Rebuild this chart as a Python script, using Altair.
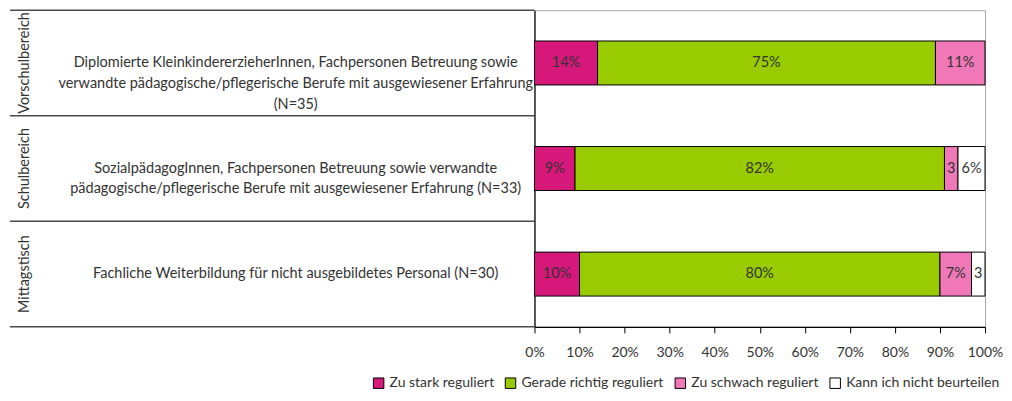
import altair as alt
import pandas as pd

groups = ["Vorschulbereich", "Schulbereich", "Mittagstisch"]
row_labels = [
    "Diplomierte KleinkindererzieherInnen, Fachpersonen Betreuung sowie\nverwandte pädagogische/pflegerische Berufe mit ausgewiesener Erfahrung\n(N=35)",
    "SozialpädagogInnen, Fachpersonen Betreuung sowie verwandte\npädagogische/pflegerische Berufe mit ausgewiesener Erfahrung (N=33)",
    "Fachliche Weiterbildung für nicht ausgebildetes Personal (N=30)",
]
categories = ["Zu stark reguliert", "Gerade richtig reguliert",
              "Zu schwach reguliert", "Kann ich nicht beurteilen"]
colors = ["#D6187B", "#99CC00", "#F078B8", "#FFFFFF"]

zu_stark = [14, 9, 10]
gerade_richtig = [75, 82, 80]
zu_schwach = [11, 3, 7]
kann_nicht = [0, 6, 3]
seg_labels = [
    ["14%", "75%", "11%", ""],
    ["9%", "82%", "3", "6%"],
    ["10%", "80%", "7%", "3"],
]

FONT = "Lato"
FS = 14.5
FS2 = 14
TXT = "#333333"
LINE = "#4a4a4a"

series = [zu_stark, gerade_richtig, zu_schwach, kann_nicht]
recs = []
for i, g in enumerate(groups):
    for j, c in enumerate(categories):
        v = series[j][i]
        if v > 0:
            recs.append({"group": g, "cat": c, "order": j, "value": v,
                         "label": seg_labels[i][j]})
df = pd.DataFrame(recs)
left_df = pd.DataFrame({"group": groups, "row": row_labels})

H = 317
yband = alt.Scale(paddingInner=0, paddingOuter=0)

# ---- left table panel ----
base_left = alt.Chart(left_df)
grp_txt = base_left.mark_text(angle=270, fontSize=FS, font=FONT, color=TXT).encode(
    x=alt.value(15),
    y=alt.Y("group:N", sort=groups, scale=yband, axis=None),
    text="group:N",
)
row_txt = base_left.mark_text(fontSize=FS, font=FONT, color=TXT, lineBreak="\n",
                              lineHeight=21, align="center", baseline="middle").encode(
    x=alt.value(286),
    y=alt.Y("group:N", sort=groups, scale=yband, axis=None),
    text="row:N",
)
rules_top = base_left.mark_rule(color=LINE, strokeWidth=1.5).encode(
    y=alt.Y("group:N", sort=groups, scale=yband, axis=None, bandPosition=0),
)
rule_bottom = base_left.transform_filter(
    alt.datum.group == groups[-1]
).mark_rule(color=LINE, strokeWidth=1.5).encode(
    y=alt.Y("group:N", sort=groups, scale=yband, axis=None, bandPosition=1),
)
left = alt.layer(rules_top, rule_bottom, grp_txt, row_txt).properties(
    width=525, height=H, view=alt.ViewBackground(stroke="transparent")
)

# ---- bar panel ----
base = alt.Chart(df).transform_stack(
    stack="value", groupby=["group"], as_=["x0", "x1"],
    sort=[alt.SortField("order", order="ascending")],
).transform_calculate(mid="(datum.x0 + datum.x1) / 2")

yenc = alt.Y("group:N", sort=groups, scale=yband,
             axis=alt.Axis(labels=False, ticks=False, title=None, grid=False,
                           domainColor="black", domainWidth=1.2,
                           minExtent=0, maxExtent=0, offset=0))

bars = base.mark_bar(size=44, stroke="black", strokeWidth=1).encode(
    x=alt.X("x0:Q", scale=alt.Scale(domain=[0, 100], nice=False),
            axis=alt.Axis(values=list(range(0, 101, 10)),
                          labelExpr="datum.value + '%'", title=None, grid=False,
                          tickSize=6, tickColor="black", domainColor="black",
                          domainWidth=1.2, labelOverlap=False, labelFlush=False,
                          labelPadding=13,
                          labelFontSize=FS2, labelFont=FONT, labelColor=TXT)),
    x2="x1:Q",
    y=yenc,
    color=alt.Color("cat:N", scale=alt.Scale(domain=categories, range=colors),
                    legend=alt.Legend(title=None, orient="none", direction="horizontal",
                                      legendX=362, legendY=366, symbolType="square",
                                      symbolSize=110, symbolStrokeColor="black",
                                      symbolStrokeWidth=1, labelFontSize=FS2,
                                      labelFont=FONT, labelColor=TXT,
                                      columnPadding=8, labelOffset=4)),
)
labels = base.mark_text(fontSize=FS, font=FONT, color=TXT).encode(
    x="mid:Q", y=alt.Y("group:N", sort=groups), text="label:N"
)
right = alt.layer(bars, labels).properties(
    width=451, height=H, view=alt.ViewBackground(stroke="#a8a8a8")
)

chart = alt.hconcat(left, right, spacing=0, bounds="flush").properties(padding=0)
chart.save("out.html", embed_options={"renderer": "svg", "actions": False})
